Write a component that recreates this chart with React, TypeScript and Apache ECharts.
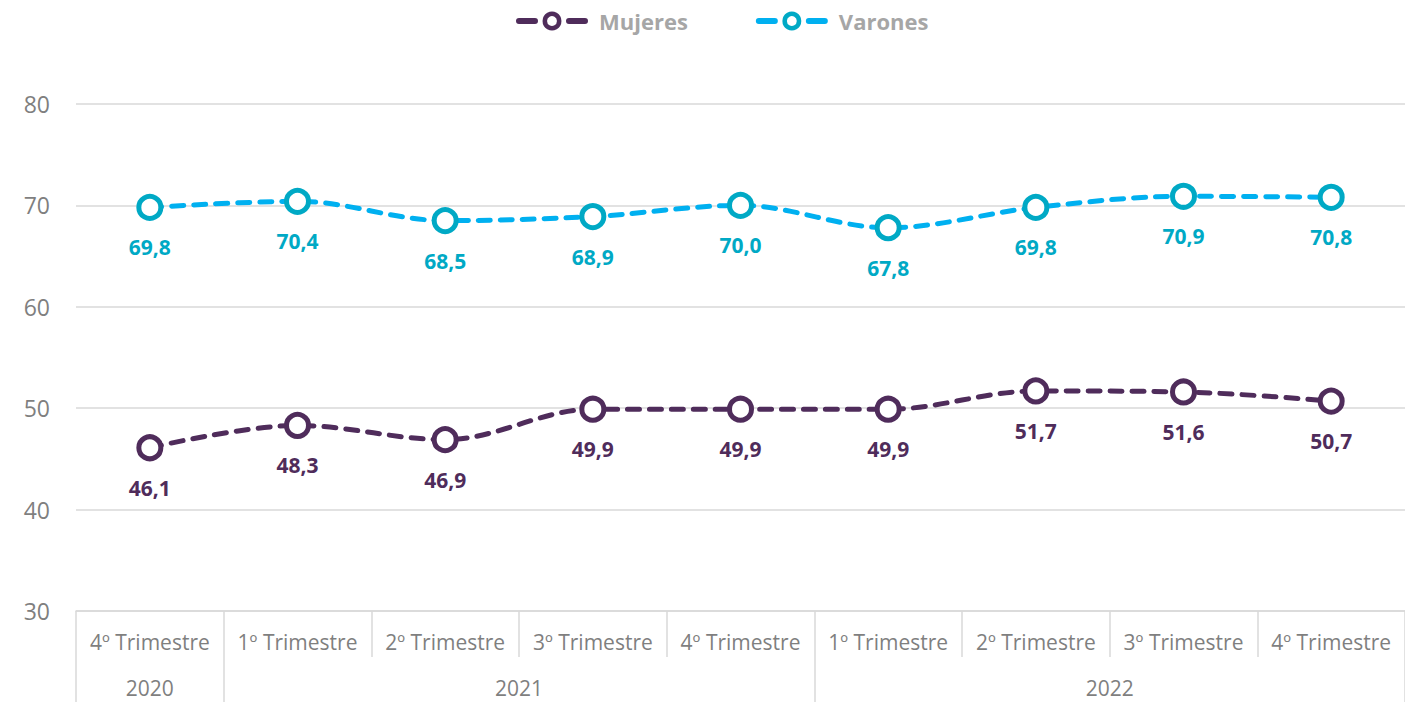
import React, { useEffect, useRef } from "react";
import * as echarts from "echarts";

const categories = [
  "4º Trimestre", "1º Trimestre", "2º Trimestre", "3º Trimestre", "4º Trimestre",
  "1º Trimestre", "2º Trimestre", "3º Trimestre", "4º Trimestre",
];
const years = ["2020", "2021", "2022"];
const yearCounts = [1, 4, 4];
const mujeres = [46.1, 48.3, 46.9, 49.9, 49.9, 49.9, 51.7, 51.6, 50.7];
const varones = [69.8, 70.4, 68.5, 68.9, 70.0, 67.8, 69.8, 70.9, 70.8];
const yTicks = { min: 30, max: 80, interval: 10 };

const FONT = "Open Sans";

export default function App() {
  const ref = useRef<HTMLDivElement>(null);
  useEffect(() => {
    if (!ref.current) return;
    const chart = echarts.init(ref.current, undefined, { renderer: "svg" });
    const boundaries: number[] = [0];
    const centers: number[] = [];
    let acc = 0;
    yearCounts.forEach((c) => {
      centers.push(acc + c / 2);
      acc += c;
      boundaries.push(acc);
    });
    const fmt = (v: number) => v.toFixed(1).replace(".", ",");
    const grey = "#d9d9d9";
    const mkSeries = (name: string, data: number[], line: string, mark: string, lab: string) => ({
      name,
      type: "line",
      data,
      smooth: 0.35,
      symbol: "circle",
      symbolSize: 22,
      lineStyle: { color: line, width: 5, type: [12, 10], cap: "round" },
      itemStyle: { color: "#ffffff", borderColor: mark, borderWidth: 5 },
      label: {
        show: true,
        position: "bottom",
        distance: 16,
        color: lab,
        fontFamily: FONT,
        fontWeight: "bold",
        fontSize: 21,
        formatter: (p: any) => fmt(p.value),
      },
      z: 3,
    });
    chart.setOption({
      animation: false,
      legend: {
        top: 8,
        left: 516,
        padding: 0,
        itemWidth: 66,
        itemHeight: 18,
        itemGap: 68,
        itemStyle: { borderWidth: 4.5 },
        lineStyle: { width: 6, type: [16, 34], cap: "round" },
        textStyle: {
          color: "#a6a6a6",
          fontFamily: FONT,
          fontWeight: "bold",
          fontSize: 22,
          lineHeight: 26,
          padding: [0, 0, 0, 9],
        },
        data: ["Mujeres", "Varones"],
      },
      grid: { left: 76, top: 104, width: 1332, bottom: 91, containLabel: false },
      xAxis: [
        {
          type: "category",
          data: categories,
          boundaryGap: true,
          axisLine: { show: true, lineStyle: { color: grey, width: 1.5 } },
          axisTick: { show: true, interval: 0, length: 46, lineStyle: { color: grey, width: 1.5 } },
          axisLabel: { interval: 0, color: "#7f7f7f", fontFamily: FONT, fontSize: 21, margin: 20 },
        },
        {
          type: "value",
          position: "bottom",
          offset: 46,
          min: 0,
          max: categories.length,
          axisLine: { show: false },
          splitLine: { show: false },
          axisTick: { show: true, customValues: boundaries, length: 46, lineStyle: { color: grey, width: 1.5 } },
          axisLabel: {
            customValues: centers,
            color: "#7f7f7f",
            fontFamily: FONT,
            fontSize: 21,
            margin: 20,
            formatter: (v: number) => {
              const i = centers.findIndex((c) => Math.abs(c - v) < 1e-6);
              return i >= 0 ? years[i] : "";
            },
          },
        },
      ],
      yAxis: {
        type: "value",
        min: yTicks.min,
        max: yTicks.max,
        interval: yTicks.interval,
        axisLine: { show: false },
        axisTick: { show: false },
        splitLine: { lineStyle: { color: grey, width: 1.5 } },
        axisLabel: { color: "#7f7f7f", fontFamily: FONT, fontSize: 23, margin: 26 },
      },
      series: [
        mkSeries("Mujeres", mujeres, "#4f2c5b", "#4f2c5b", "#4f2c5b"),
        mkSeries("Varones", varones, "#00b0f0", "#00a9c5", "#00a9c5"),
      ],
    });
    return () => chart.dispose();
  }, []);
  return (
    <div
      ref={ref}
      style={{ position: "fixed", left: 0, top: 0, width: 1405, height: 702, background: "#fff" }}
    />
  );
}
